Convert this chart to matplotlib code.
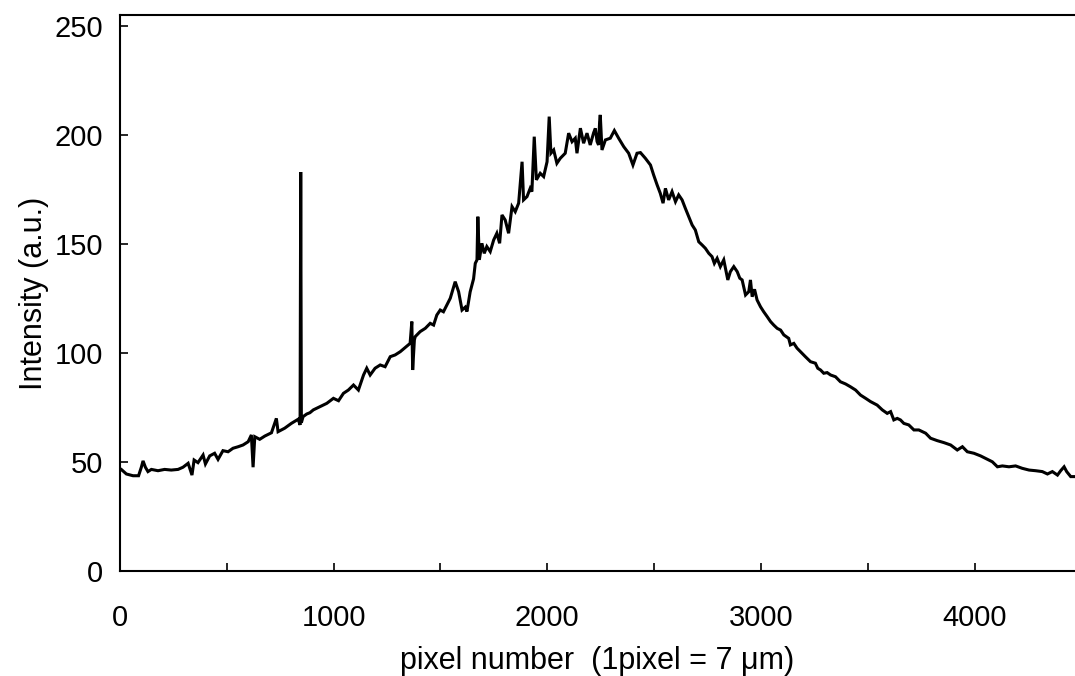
import matplotlib
matplotlib.use("Agg")
import matplotlib.pyplot as plt
from matplotlib.ticker import MultipleLocator, NullFormatter

plt.rcParams["font.family"] = ["Liberation Sans", "DejaVu Sans"]

# Intensity profile along the detector (pixel index, intensity in a.u.)
pixel = [
    0, 6, 30, 61, 87, 100, 108, 119, 131, 147, 178, 209, 240, 272, 295, 319,
    337, 347, 365, 389, 400, 420, 443, 459, 482, 506, 529, 553, 576, 600, 615,
    623, 631, 654, 678, 709, 732, 740, 771, 802, 834, 843, 846, 849, 857, 874,
    889, 905, 937, 968, 999, 1023, 1046, 1069, 1093, 1116, 1140, 1155, 1171,
    1194, 1218, 1241, 1265, 1288, 1312, 1340, 1358, 1366, 1370, 1378, 1382,
    1405, 1429, 1452, 1468, 1483, 1499, 1514, 1530, 1546, 1569, 1585, 1601,
    1616, 1624, 1639, 1655, 1663, 1671, 1675, 1682, 1694, 1705, 1717, 1733,
    1749, 1764, 1777, 1788, 1803, 1819, 1835, 1850, 1866, 1882, 1889, 1905,
    1920, 1928, 1939, 1949, 1967, 1983, 1999, 2009, 2017, 2030, 2045, 2061,
    2084, 2100, 2116, 2131, 2139, 2155, 2170, 2186, 2201, 2217, 2225, 2233,
    2240, 2245, 2248, 2256, 2272, 2295, 2314, 2334, 2358, 2381, 2401, 2420,
    2436, 2459, 2483, 2498, 2514, 2529, 2542, 2553, 2568, 2584, 2600, 2615,
    2631, 2646, 2662, 2678, 2693, 2709, 2725, 2740, 2756, 2771, 2782, 2795,
    2810, 2826, 2845, 2857, 2873, 2889, 2901, 2912, 2928, 2943, 2951, 2959,
    2970, 2982, 2998, 3013, 3029, 3045, 3060, 3076, 3092, 3107, 3130, 3138,
    3154, 3169, 3185, 3208, 3232, 3255, 3266, 3279, 3294, 3310, 3326, 3349,
    3372, 3396, 3419, 3443, 3466, 3490, 3513, 3544, 3568, 3591, 3607, 3622,
    3638, 3653, 3669, 3692, 3716, 3739, 3771, 3794, 3825, 3856, 3888, 3919,
    3943, 3966, 3997, 4028, 4060, 4083, 4107, 4130, 4161, 4192, 4223, 4255,
    4286, 4317, 4341, 4364, 4388, 4403, 4419, 4431, 4450, 4473,
]

intensity = [
    46.3, 46.6, 44.5, 43.7, 43.7, 47.6, 50.5, 47.6, 45.6, 46.6, 46.0, 46.6,
    46.3, 46.6, 47.6, 49.4, 44.0, 50.9, 49.7, 53.2, 49.1, 52.8, 54.0, 51.2,
    55.2, 54.7, 56.3, 57.0, 57.8, 59.3, 62.4, 47.6, 61.6, 60.4, 61.9, 63.4,
    70.0, 63.9, 65.5, 67.7, 69.6, 67.0, 183.0, 68.0, 70.8, 72.0, 72.6, 73.9,
    75.4, 76.9, 79.2, 78.1, 81.5, 83.0, 85.3, 83.0, 89.9, 93.0, 89.9, 93.0,
    94.5, 93.7, 98.3, 99.1, 100.6, 102.9, 104.4, 114.4, 92.2, 106.0, 107.5,
    109.8, 111.3, 113.6, 112.8, 117.4, 119.7, 118.9, 122.0, 125.1, 132.7,
    128.1, 119.7, 121.0, 119.0, 128.0, 134.0, 141.1, 142.7, 162.5, 142.7,
    150.3, 145.7, 148.8, 146.5, 151.8, 154.9, 150.3, 163.3, 161.0, 154.9,
    167.1, 164.8, 168.7, 187.7, 170.2, 171.7, 175.5, 174.0, 199.2, 179.4,
    182.4, 180.9, 187.7, 208.4, 191.6, 193.1, 187.0, 189.3, 191.6, 200.8,
    196.9, 198.5, 191.6, 203.1, 196.2, 200.8, 195.4, 201.0, 203.0, 197.0,
    195.4, 206.0, 209.2, 193.1, 197.7, 198.5, 202.0, 198.5, 194.6, 191.6,
    186.2, 191.6, 191.9, 189.3, 186.2, 181.6, 177.1, 173.2, 168.7, 175.5,
    170.2, 174.0, 169.4, 172.5, 170.2, 166.4, 162.5, 158.7, 156.4, 151.0,
    149.5, 148.0, 145.7, 144.2, 141.1, 143.4, 139.6, 142.7, 133.5, 137.3,
    139.6, 137.3, 134.3, 133.5, 126.6, 128.1, 133.5, 125.8, 129.2, 124.3,
    121.2, 118.9, 116.7, 114.4, 112.8, 111.3, 110.5, 108.3, 106.7, 103.7,
    104.4, 102.2, 100.6, 98.3, 96.0, 95.3, 93.0, 92.2, 90.7, 91.0, 89.9,
    89.1, 86.8, 85.8, 84.5, 83.0, 80.7, 79.2, 77.7, 76.1, 73.9, 72.3, 73.1,
    69.3, 70.0, 69.3, 67.7, 67.0, 64.7, 64.7, 63.2, 60.9, 59.8, 58.9, 57.8,
    55.5, 57.0, 54.7, 54.0, 52.8, 51.2, 50.1, 47.8, 48.2, 47.8, 48.2, 47.1,
    46.3, 46.0, 45.6, 44.5, 45.6, 44.0, 46.0, 47.8, 45.6, 43.3, 43.3,
]

x_major = [0, 1000, 2000, 3000, 4000]
y_major = [0, 50, 100, 150, 200, 250]

fig = plt.figure(figsize=(10.75, 6.76), dpi=100)
ax = fig.add_axes([0.1116, 0.1553, 0.8884, 0.8225])

ax.plot(pixel, intensity, color="black", linewidth=2.2, solid_joinstyle="miter")

ax.set_xlim(0, 4470)
ax.set_ylim(0, 255)
ax.set_xticks(x_major)
ax.set_yticks(y_major)
ax.xaxis.set_minor_locator(MultipleLocator(500))
ax.xaxis.set_minor_formatter(NullFormatter())

ax.tick_params(axis="both", which="both", direction="in", length=6, width=1.2,
               labelsize=21, color="black")
ax.tick_params(axis="x", which="major", pad=24)
ax.tick_params(axis="y", which="major", pad=12)

for side in ("left", "bottom", "top"):
    ax.spines[side].set_linewidth(1.5)
ax.spines["right"].set_visible(False)

ax.set_xlabel("pixel number  (1pixel = 7 μm)", fontsize=22, labelpad=10)
ax.set_ylabel("Intensity (a.u.)", fontsize=22, labelpad=4)

fig.savefig("out.png", dpi=100)
